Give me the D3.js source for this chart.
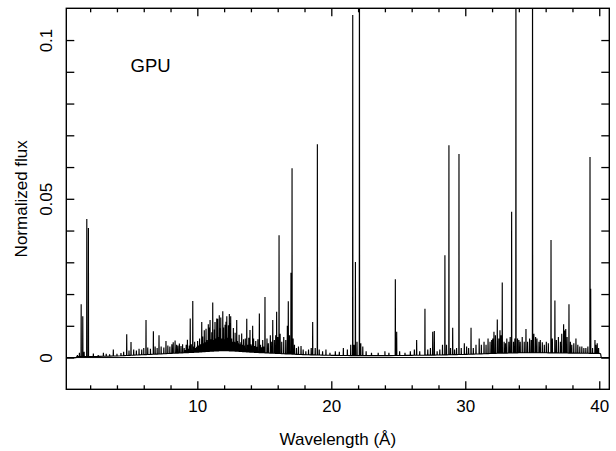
<!DOCTYPE html>
<html>
<head>
<meta charset="utf-8">
<script src="https://cdn.jsdelivr.net/npm/d3@7"></script>
<style>
body { margin: 0; background: #fff; }
svg text { font-family: "Liberation Sans", Arial, Helvetica, sans-serif; fill: #000; }
</style>
</head>
<body>
<div id="plotdiv"></div>
<script>
// Size of the figure and the plot frame (pixels)
var outerWidth = 616;
var outerHeight = 451;
var frame = { left: 66.3, right: 609.3, top: 8.3, bottom: 389.3 };

// Axis ranges
var xDomain = [0.22, 40.75];
var yDomain = [-0.01, 0.11];

// Tick values
var xMinorTicks = [2, 4, 6, 8, 12, 14, 16, 18, 22, 24, 26, 28, 32, 34, 36, 38];
var xMajorTicks = [10, 20, 30, 40];
var yTicks = [0, 0.01, 0.02, 0.03, 0.04, 0.05, 0.06, 0.07, 0.08, 0.09, 0.1];
var yLabelTicks = [0, 0.05, 0.1];

// Underlying continuum level (wavelength in A, normalized flux)
var contWave = [0.22, 0.95, 1.0, 2, 3, 4, 5, 6, 7, 8, 9, 10, 11, 12, 13, 14, 15, 16, 17, 18,
  20, 22, 24, 26, 28, 30, 32, 34, 36, 38, 40, 40.1, 40.15, 40.75];
var contFlux = [0, 0, 0.0003, 0.0003, 0.0004, 0.0005, 0.0007, 0.0009, 0.0011, 0.0013, 0.0015,
  0.0017, 0.0020, 0.0022, 0.0020, 0.0017, 0.0015, 0.0013, 0.0011, 0.0009,
  0.0007, 0.0006, 0.0006, 0.0007, 0.0008, 0.0010, 0.0013, 0.0015, 0.0015, 0.0014, 0.0013, 0.0012, 0, 0];

// Strong emission lines: centre wavelength and peak flux
var strongWave = [1.33, 1.45, 1.75, 1.87, 6.17, 9.47, 9.66, 10.33, 10.82, 10.95, 11.15, 11.32,
  11.45, 11.52, 11.64, 11.75, 11.90, 12.07, 12.14, 12.20, 12.39, 12.49, 12.94, 13.69, 14.13,
  14.63, 15.05, 15.63, 15.92, 16.10, 16.79, 16.99, 17.07, 18.61, 18.96, 21.60, 21.80, 22.10,
  24.78, 26.99, 28.48, 28.78, 29.53, 32.39, 32.76, 33.46, 33.78, 35.02, 36.40, 36.69, 37.34,
  37.74, 39.31, 39.36];
var strongFlux = [0.0168, 0.0130, 0.0436, 0.0408, 0.0118, 0.0123, 0.0178, 0.0112, 0.0105, 0.0118,
  0.0173, 0.0112, 0.0123, 0.0122, 0.0133, 0.0126, 0.0146, 0.0103, 0.0113, 0.0130, 0.0137, 0.0130,
  0.0118, 0.0122, 0.0100, 0.0139, 0.0191, 0.0118, 0.0144, 0.0385, 0.0177, 0.0267, 0.0596, 0.0112,
  0.0672, 0.1079, 0.0301, 0.1600, 0.0247, 0.0154, 0.0322, 0.0669, 0.0641, 0.0120, 0.0236, 0.0459,
  0.1500, 0.1400, 0.0370, 0.0180, 0.0105, 0.0168, 0.0632, 0.0217];

// Weak line forest: centre wavelength and peak flux
var weakWave = [1.05, 1.2, 1.55, 2.24, 2.6, 2.99, 3.2, 3.45, 3.73, 4.0, 4.3, 4.5, 4.73, 4.9, 5.05,
  5.25, 5.45, 5.65, 5.85, 6.0, 6.3, 6.5, 6.72, 6.85, 7.0, 7.14, 7.3, 7.5, 7.66, 7.8, 7.95, 8.1,
  8.2, 8.34, 8.45, 8.55, 8.66, 8.78, 8.9,
  9.02, 9.10, 9.17, 9.26, 9.33, 9.40, 9.55, 9.72, 9.80, 9.88, 9.95, 10.02, 10.10, 10.17, 10.24,
  10.40, 10.46, 10.52, 10.58, 10.65, 10.72, 10.77, 10.89, 11.02, 11.08, 11.21, 11.27, 11.38,
  11.58, 11.70, 11.81, 11.96, 12.02, 12.26, 12.32, 12.44, 12.56, 12.62, 12.69, 12.76, 12.82,
  12.88, 13.00, 13.06, 13.12, 13.18, 13.25, 13.31, 13.38, 13.45, 13.52, 13.58, 13.76, 13.84,
  13.93, 14.00, 14.06, 14.20, 14.28, 14.36, 14.44, 14.52, 14.72, 14.80, 14.88, 14.95,
  15.2, 15.3, 15.45, 15.55, 15.75, 15.85, 16.0, 16.18, 16.3, 16.45, 16.6, 16.72, 16.88, 17.15,
  17.25, 17.4, 17.55, 17.74, 17.9, 18.1, 18.3, 18.5, 18.8, 19.1, 19.35, 19.6, 19.9, 20.3, 20.6,
  20.9, 21.2, 21.45, 21.7, 21.92, 22.2, 22.35, 22.6, 23.0, 23.5, 24.0, 24.3, 24.88, 25.1, 25.5,
  25.9, 26.2, 26.37, 26.6, 27.2, 27.4, 27.57, 27.69, 27.9, 28.1, 28.3, 28.6, 28.9, 29.06, 29.2,
  29.35, 29.7, 29.93, 30.1, 30.25, 30.43, 30.6, 30.8, 31.04, 31.2, 31.4, 31.55, 31.7, 31.85,
  31.97, 32.05, 32.14, 32.25, 32.5, 32.59, 32.68, 32.9, 33.0, 33.1, 33.25, 33.35, 33.6, 33.7,
  33.9, 34.0, 34.1, 34.25, 34.4, 34.53, 34.65, 34.8, 34.92, 35.12, 35.25, 35.35, 35.5, 35.6,
  35.75, 35.9, 36.05, 36.2, 36.5, 36.8, 36.95, 37.1, 37.2, 37.42, 37.5, 37.6, 37.85, 37.95,
  38.1, 38.26, 38.4, 38.55, 38.7, 38.85, 39.0, 39.15, 39.5, 39.68, 39.75, 39.85, 39.95];
var weakFlux = [0.0008, 0.0015, 0.0018, 0.0013, 0.0008, 0.0015, 0.0012, 0.0010, 0.0025, 0.0012,
  0.0014, 0.0018, 0.0073, 0.0022, 0.0049, 0.0025, 0.0022, 0.0028, 0.0025, 0.0030, 0.0032, 0.0028,
  0.0083, 0.0035, 0.0030, 0.0070, 0.0035, 0.0032, 0.0052, 0.0038, 0.0035, 0.0042, 0.0048, 0.0054,
  0.0040, 0.0038, 0.0044, 0.0036, 0.0042,
  0.0030, 0.0024, 0.0040, 0.0056, 0.0028, 0.0038, 0.0042, 0.0035, 0.0050, 0.0030, 0.0034,
  0.0052, 0.0038, 0.0060, 0.0042,
  0.0066, 0.0045, 0.0086, 0.0048, 0.0091, 0.0055, 0.0048, 0.0095,
  0.0058, 0.0080, 0.0055, 0.0088, 0.0060,
  0.0065, 0.0092, 0.0060, 0.0095, 0.0058,
  0.0062, 0.0102, 0.0108, 0.0060, 0.0050, 0.0093, 0.0050, 0.0078,
  0.0048, 0.0052, 0.0045, 0.0072, 0.0042, 0.0048, 0.0076, 0.0040, 0.0058, 0.0038, 0.0060,
  0.0040, 0.0062, 0.0087, 0.0042, 0.0038,
  0.0060, 0.0036, 0.0052, 0.0034, 0.0058,
  0.0040, 0.0032, 0.0055, 0.0035,
  0.0060, 0.0045, 0.0070, 0.0050, 0.0055, 0.0070, 0.0065, 0.0075, 0.0050, 0.0065, 0.0055, 0.0100,
  0.0070, 0.0060, 0.0040, 0.0030, 0.0035, 0.0036, 0.0025, 0.0020, 0.0025, 0.0030, 0.0030, 0.0025,
  0.0020, 0.0025, 0.0015, 0.0020, 0.0018, 0.0030, 0.0025, 0.0040, 0.0040, 0.0050, 0.0045, 0.0035,
  0.0020, 0.0015, 0.0015, 0.0020, 0.0015, 0.0081, 0.0020, 0.0015, 0.0020, 0.0025, 0.0055, 0.0020,
  0.0025, 0.0030, 0.0081, 0.0084, 0.0020, 0.0025, 0.0040, 0.0040, 0.0030, 0.0094, 0.0025, 0.0030,
  0.0030, 0.0045, 0.0035, 0.0030, 0.0094, 0.0030, 0.0040, 0.0060, 0.0040, 0.0050, 0.0040, 0.0060,
  0.0050, 0.0055, 0.0060, 0.0081, 0.0070, 0.0060, 0.0086, 0.0070, 0.0050, 0.0045, 0.0060, 0.0050,
  0.0065, 0.0050, 0.0060, 0.0060, 0.0055, 0.0050, 0.0065, 0.0050, 0.0090, 0.0050, 0.0060, 0.0055,
  0.0075, 0.0065, 0.0060, 0.0050, 0.0055, 0.0048, 0.0040, 0.0050, 0.0045, 0.0060, 0.0055, 0.0065,
  0.0050, 0.0075, 0.0085, 0.0090, 0.0065, 0.0050, 0.0040, 0.0045, 0.0060, 0.0040, 0.0035, 0.0035,
  0.0030, 0.0030, 0.0035, 0.0030, 0.0055, 0.0040, 0.0045, 0.0030];

// Half width of a drawn line profile (A)
var halfWidth = 0.012;

var vis = d3.select("#plotdiv").append("svg")
  .attr("width", outerWidth)
  .attr("height", outerHeight);

var xScale = d3.scaleLinear().domain(xDomain).range([frame.left, frame.right]);
var yScale = d3.scaleLinear().domain(yDomain).range([frame.bottom, frame.top]);
var contScale = d3.scaleLinear().domain(contWave).range(contFlux);

// Clip for the spectrum
vis.append("clipPath").attr("id", "plotClip")
  .append("rect")
  .attr("x", frame.left).attr("y", frame.top)
  .attr("width", frame.right - frame.left)
  .attr("height", frame.bottom - frame.top);

// Zero level line
vis.append("line")
  .attr("x1", frame.left).attr("x2", frame.right)
  .attr("y1", yScale(0)).attr("y2", yScale(0))
  .attr("stroke", "#000").attr("stroke-width", 1);

// Build the spectrum: continuum knots plus a narrow profile for every line
var lines = strongWave.map(function(w, i) { return [w, strongFlux[i]]; })
  .concat(weakWave.map(function(w, i) { return [w, weakFlux[i]]; }));
var pts = contWave.map(function(w, i) { return [w, contFlux[i]]; });
lines.forEach(function(l) {
  var base = contScale(l[0]);
  pts.push([l[0] - halfWidth, base], [l[0], l[1]], [l[0] + halfWidth, base]);
});
pts.sort(function(a, b) { return a[0] - b[0]; });

var spectrumLine = d3.line()
  .x(function(d) { return xScale(d[0]); })
  .y(function(d) { return yScale(d[1]); });

vis.append("path")
  .datum(pts)
  .attr("clip-path", "url(#plotClip)")
  .attr("d", spectrumLine)
  .attr("fill", "none")
  .attr("stroke", "#000")
  .attr("stroke-width", 1.15)
  .attr("stroke-linejoin", "bevel");

// Axes - ticks point inwards on all four sides
function styleAxis(sel) {
  sel.select(".domain").remove();
  sel.selectAll(".tick line").attr("stroke", "#000").attr("stroke-width", 1.3);
  sel.selectAll("text").style("font-size", "17px").attr("fill", "#000");
}

vis.append("g").attr("transform", "translate(0," + frame.bottom + ")")
  .call(d3.axisBottom(xScale).tickValues(xMinorTicks).tickSize(-4).tickFormat(""))
  .call(styleAxis);
vis.append("g").attr("transform", "translate(0," + frame.bottom + ")")
  .call(d3.axisBottom(xScale).tickValues(xMajorTicks).tickSize(-8).tickPadding(10.3).tickFormat(d3.format("d")))
  .call(styleAxis);
vis.append("g").attr("transform", "translate(0," + frame.top + ")")
  .call(d3.axisTop(xScale).tickValues(xMinorTicks).tickSize(-4).tickFormat(""))
  .call(styleAxis);
vis.append("g").attr("transform", "translate(0," + frame.top + ")")
  .call(d3.axisTop(xScale).tickValues(xMajorTicks).tickSize(-8).tickFormat(""))
  .call(styleAxis);

vis.append("g").attr("transform", "translate(" + frame.left + ",0)")
  .call(d3.axisLeft(yScale).tickValues(yTicks).tickSize(-8).tickFormat(""))
  .call(styleAxis);
vis.append("g").attr("transform", "translate(" + frame.right + ",0)")
  .call(d3.axisRight(yScale).tickValues(yTicks).tickSize(-8).tickFormat(""))
  .call(styleAxis);

// Rotated y tick labels
var yLab = vis.append("g").attr("transform", "translate(" + frame.left + ",0)")
  .call(d3.axisLeft(yScale).tickValues(yLabelTicks).tickSize(0).tickFormat(d3.format("")))
  .call(styleAxis);
yLab.selectAll("text")
  .attr("transform", "rotate(-90)")
  .attr("x", 0).attr("y", -14.6).attr("dy", 0)
  .attr("text-anchor", "middle");

// Frame
vis.append("rect")
  .attr("x", frame.left).attr("y", frame.top)
  .attr("width", frame.right - frame.left)
  .attr("height", frame.bottom - frame.top)
  .attr("fill", "none").attr("stroke", "#000").attr("stroke-width", 1.4);

// Axis titles and annotation
vis.append("text")
  .attr("x", (frame.left + frame.right) / 2).attr("y", 445)
  .attr("text-anchor", "middle").style("font-size", "17px")
  .text("Wavelength (Å)");

vis.append("text")
  .attr("transform", "translate(26.5," + (frame.top + frame.bottom) / 2 + ") rotate(-90)")
  .attr("text-anchor", "middle").style("font-size", "17px")
  .text("Normalized flux");

vis.append("text")
  .attr("x", 130.5).attr("y", 71.7)
  .style("font-size", "18.5px")
  .text("GPU");
</script>
</body>
</html>
